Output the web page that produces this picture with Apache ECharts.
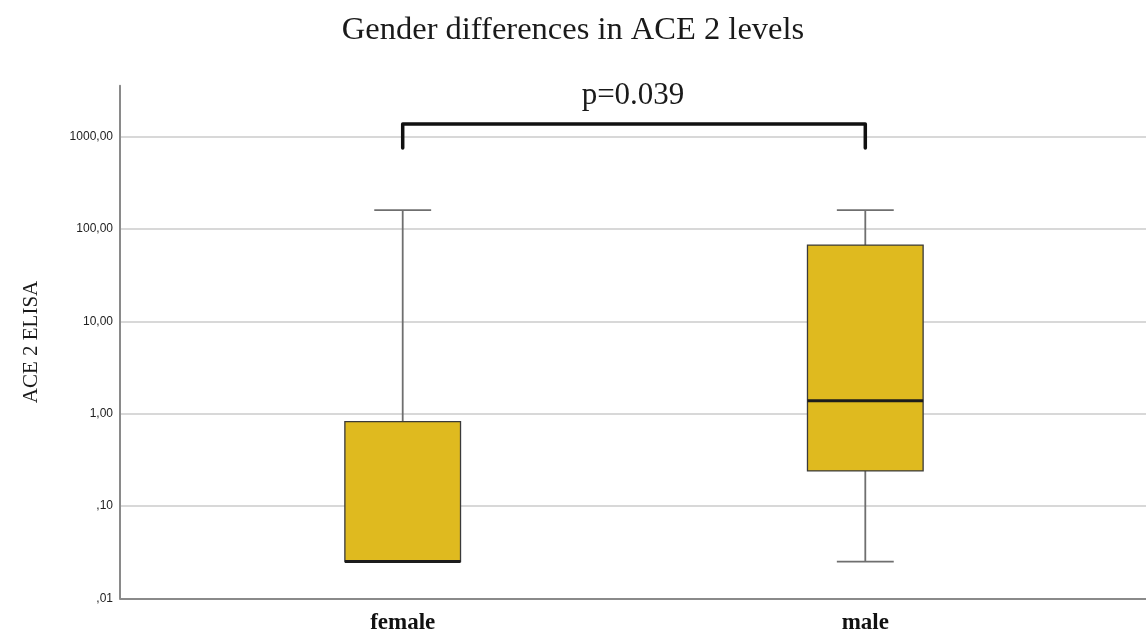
<!DOCTYPE html>
<html><head><meta charset="utf-8">
<script src="https://cdn.jsdelivr.net/npm/echarts@6/dist/echarts.min.js"></script>
<style>html,body{margin:0;padding:0;background:#fff}#c{width:1146px;height:635px}</style>
</head><body><div id="c"></div>
<script>
// ---- data ----
const categories = ['female', 'male'];
const minVals    = [0.025, 0.025];
const q1Vals     = [0.025, 0.24];
const medianVals = [0.025, 1.38];
const q3Vals     = [0.82, 67];
const maxVals    = [160, 160];
const yAxisMin = 0.01;
const yAxisMax = 3570;
const bracketLow = 755;
const bracketHigh = 1373;
const pLabel = 'p=0.039';
const titleText = 'Gender differences in ACE 2 levels';
const yName = 'ACE 2 ELISA';

const boxData = categories.map((c, i) => [i, minVals[i], q1Vals[i], medianVals[i], q3Vals[i], maxVals[i]]);
const bracketData = [[0, bracketLow], [0, bracketHigh], [1, bracketHigh], [1, bracketLow]];

function fmt(v) {
  let s = Number(v).toFixed(2).replace('.', ',');
  if (s.startsWith('0')) s = s.slice(1);
  return s;
}

const serif = '"Liberation Serif", "Times New Roman", serif';
const sans = '"Liberation Sans", Arial, sans-serif';
const gridTop = 85.7, gridBottom = 36.7;

const chart = echarts.init(document.getElementById('c'), null, {renderer: 'canvas'});
chart.setOption({
  backgroundColor: '#ffffff',
  animation: false,
  title: {
    text: titleText, left: 'center', top: 9,
    textStyle: {fontFamily: serif, fontSize: 32.5, fontWeight: 'normal', color: '#1a1a1a'}
  },
  graphic: [{
    type: 'text', x: 633, y: 96,
    style: {text: pLabel, font: '31px ' + serif, fill: '#1a1a1a', textAlign: 'center', textVerticalAlign: 'middle'}
  }],
  grid: [
    {left: 120, right: 0, top: gridTop, bottom: gridBottom, outerBoundsMode: 'none', containLabel: false},
    {left: 171.4, right: 49.4, top: gridTop, bottom: gridBottom, outerBoundsMode: 'none', containLabel: false}
  ],
  xAxis: [
    {gridIndex: 0, type: 'value', min: 0, max: 1,
     axisLine: {show: true, onZero: false, lineStyle: {color: '#8a8a8a', width: 2}},
     axisTick: {show: false}, axisLabel: {show: false}, splitLine: {show: false}},
    {gridIndex: 1, type: 'category', data: categories, boundaryGap: true,
     axisLine: {show: false}, axisTick: {show: false},
     axisLabel: {margin: 13, fontFamily: serif, fontSize: 23, fontWeight: 'bold', color: '#111'},
     splitLine: {show: false}}
  ],
  yAxis: [
    {gridIndex: 0, type: 'log', logBase: 10, min: yAxisMin, max: yAxisMax,
     name: yName, nameLocation: 'middle', nameGap: 78,
     nameTextStyle: {fontFamily: serif, fontSize: 21, color: '#1a1a1a'},
     axisLine: {show: true, lineStyle: {color: '#8a8a8a', width: 2}},
     axisTick: {show: false},
     axisLabel: {showMaxLabel: false, margin: 7, fontFamily: sans, fontSize: 12, color: '#222', formatter: fmt},
     splitLine: {show: true, showMaxLine: false, showMinLine: false, lineStyle: {color: '#d8d8d8', width: 2}}},
    {gridIndex: 1, type: 'log', logBase: 10, min: yAxisMin, max: yAxisMax,
     axisLine: {show: false}, axisTick: {show: false}, axisLabel: {show: false}, splitLine: {show: false}}
  ],
  series: [
    {
      type: 'custom', xAxisIndex: 1, yAxisIndex: 1, z: 3,
      data: boxData,
      encode: {x: 0, y: [1, 2, 3, 4, 5]},
      renderItem: function (params, api) {
        const x = api.value(0);
        const band = api.coord([1, 1])[0] - api.coord([0, 1])[0];
        const bw = band * 0.25, cw = band * 0.123;
        const pMin = api.coord([x, api.value(1)]);
        const pQ1 = api.coord([x, api.value(2)]);
        const pMed = api.coord([x, api.value(3)]);
        const pQ3 = api.coord([x, api.value(4)]);
        const pMax = api.coord([x, api.value(5)]);
        const cx = pMin[0];
        const wStyle = {stroke: '#6f6f6f', lineWidth: 1.8};
        return {type: 'group', children: [
          {type: 'line', shape: {x1: cx, y1: pQ3[1], x2: cx, y2: pMax[1]}, style: wStyle},
          {type: 'line', shape: {x1: cx, y1: pQ1[1], x2: cx, y2: pMin[1]}, style: wStyle},
          {type: 'line', shape: {x1: cx - cw / 2, y1: pMax[1], x2: cx + cw / 2, y2: pMax[1]}, style: wStyle},
          {type: 'line', shape: {x1: cx - cw / 2, y1: pMin[1], x2: cx + cw / 2, y2: pMin[1]}, style: wStyle},
          {type: 'rect', shape: {x: cx - bw / 2, y: pQ3[1], width: bw, height: pQ1[1] - pQ3[1]},
           style: {fill: '#DFBA1F', stroke: '#3a3a3a', lineWidth: 1.3}},
          {type: 'line', shape: {x1: cx - bw / 2, y1: pMed[1], x2: cx + bw / 2, y2: pMed[1]},
           style: {stroke: '#1c1c1c', lineWidth: 3}}
        ]};
      }
    },
    {
      type: 'line', xAxisIndex: 1, yAxisIndex: 1, z: 4,
      data: bracketData, symbol: 'none', silent: true,
      lineStyle: {color: '#111', width: 3.5, join: 'round', cap: 'round'}
    }
  ]
});
</script>
</body></html>
